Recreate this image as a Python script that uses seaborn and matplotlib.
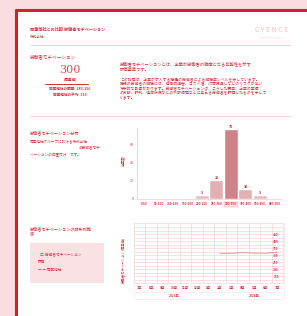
import numpy as np
import pandas as pd
import matplotlib
matplotlib.use("Agg")
import matplotlib.pyplot as plt
from matplotlib.patches import Rectangle
from matplotlib.lines import Line2D
import seaborn as sns

sns.set_style("white")
plt.rcParams['font.family'] = ['Noto Sans CJK JP', 'DejaVu Sans']
plt.rcParams['axes.unicode_minus'] = False

RED = "#d42f3c"
PINK_BG = "#f8dde1"
PALE = "#f5c9cd"

# 分布データ
bin_labels = ["0-50", "50-100", "100-150", "150-200", "200-250",
              "250-300", "300-350", "350-400", "400-450", "450-500"]
bin_counts = [0, 0, 0, 0, 3, 20, 75, 10, 3, 0]
highlight_bin = "300-350"

# 推移データ
month_labels = ["7月", "8月", "9月", "10月", "11月", "12月",
                "1月", "2月", "3月", "4月", "5月", "6月", "7月"]
month_scores = [np.nan] * 7 + [312, 313, 318, 314, 313, 322]
year_labels = ["2023年", "2024年"]
score_ticks = [150, 200, 250, 300, 350, 400, 450]

W, H = 307, 316
fig = plt.figure(figsize=(W / 100, H / 100), dpi=100, facecolor=PINK_BG)


def fx(x):
    return x / W


def fy(y):
    return 1 - y / H


def txt(x, y, s, size=3.1, color=RED, **kw):
    fig.text(fx(x), fy(y), s, fontsize=size, color=color, va="center", **kw)


def hline(x0, x1, y, color=PALE, lw=0.6):
    fig.add_artist(Line2D([fx(x0), fx(x1)], [fy(y), fy(y)], color=color, lw=lw,
                          transform=fig.transFigure))


# 白いパネルと赤い枠
fig.add_artist(Rectangle((fx(16), 0), 1 - fx(16), fy(10), transform=fig.transFigure,
                         facecolor="white", edgecolor="none", zorder=0))
fig.add_artist(Line2D([fx(16), 1], [fy(10), fy(10)], color="#d61f2c", lw=2.2,
                      transform=fig.transFigure))
fig.add_artist(Line2D([fx(16), fx(16)], [0, fy(10)], color="#d61f2c", lw=2.2,
                      transform=fig.transFigure))

# ヘッダー
txt(30, 29, "同業他社との比較 労働者モチベーション", 3.0, fontweight="bold")
txt(30, 37, "株式会社", 2.6)
txt(272, 30, "C Y E N C E", 5.0, color="#f4bfc3", ha="center")
txt(272, 38, "Cyber Risk Analytics", 2.0, color="#fae0e2", ha="center")
hline(30, 290, 45)

# セクション1
txt(30, 57, "労働者モチベーション", 3.3)
txt(70, 70, "300", 8, ha="center", family="DejaVu Serif", color="#dc4b55")
txt(70, 79, "(偏差値)", 2.6, ha="center", fontweight="bold")
hline(45, 88, 84, color=RED, lw=0.7)
txt(70, 89, "同業他社の範囲: 285-356", 2.6, ha="center", fontweight="bold")
txt(70, 95, "同業他社の平均: 316", 2.6, ha="center", fontweight="bold")

txt(120, 64, "労働者モチベーションとは、企業が労働者の離職となる可能性を示す", 3.1)
txt(120, 68.5, "評価基準です。", 3.1)
para = [
    "この指標は、企業が求人する職種の労働者による離職率レベルを示しています。",
    "職場の労働者の離職には、組織的損害、コスト増、対策見直しなどのリスクが伴い",
    "将来的な影響があります。労働者モチベーションは、こうした要素、企業の業績",
    "の変動、評判、経済状況などの外部環境などに与える労働者を評価したものを示して",
    "います。",
]
for i, line in enumerate(para):
    txt(120, 80 + i * 4.4, line, 2.75)
hline(30, 290, 116)

# セクション2
txt(30, 133, "労働者モチベーション分布", 3.0)
txt(30, 142, "同業他社グループにおける株式会社", 2.6)
txt(100, 148, "の労働者モチ", 2.6, ha="right")
txt(30, 154, "ベーションの位置付け　です。", 2.6)

ax1 = fig.add_axes([fx(137), fy(199), fx(282) - fx(137), fy(128) - fy(199)])
df_bins = pd.DataFrame({"bin": bin_labels, "count": bin_counts})
bar_colors = {b: ("#da777c" if b == highlight_bin else "#eeb3b6") for b in bin_labels}
bar_colors["250-300"] = "#eaa7aa"
bar_colors["350-400"] = "#eaa7aa"
sns.barplot(data=df_bins, x="bin", y="count", hue="bin", palette=bar_colors,
            legend=False, width=0.92, ax=ax1, edgecolor="white", linewidth=0.3)
for cont, v in zip(ax1.containers, bin_counts):
    if v:
        ax1.bar_label(cont, labels=[str(v)], fontsize=2.6, color="#b8202c",
                      fontweight="bold", padding=0.8)
ax1.set_ylim(0, 77.6)
ax1.set_xlim(-0.5, len(bin_labels) - 0.5)
ax1.set_yticks([0, 20, 40, 60])
ax1.tick_params(axis="y", labelsize=2.6, labelcolor=RED, length=1.2, width=0.3,
                color=PALE, pad=1)
ax1.tick_params(axis="x", labelsize=2.2, labelcolor=RED, length=0, pad=2.5)
for lab in ax1.get_xticklabels():
    lab.set_fontweight("bold")
    if lab.get_text() == highlight_bin:
        lab.set_bbox(dict(facecolor="#fbe3e5", edgecolor="#e59aa0", lw=0.3, pad=0.6))
ax1.set_xlabel("")
ax1.set_ylabel("")
for s in ["top", "right"]:
    ax1.spines[s].set_visible(False)
ax1.spines["left"].set_color(PALE)
ax1.spines["bottom"].set_color(PALE)
ax1.spines["left"].set_linewidth(0.5)
ax1.spines["bottom"].set_linewidth(0.5)
ax1.set_facecolor("white")
fig.text(fx(124), fy(161), "企業数", fontsize=2.6, color=RED, rotation=90,
         ha="center", va="center")

# セクション3
txt(30, 229, "労働者モチベーションの時系列推", 3.0)
txt(30, 234.5, "移", 3.0)
fig.add_artist(Rectangle((fx(30), fy(283)), fx(104) - fx(30), fy(243) - fy(283),
                         transform=fig.transFigure, facecolor="#f9e1e4",
                         edgecolor="none"))
txt(40, 255, "□  労働者モチベーション", 2.6)
txt(38, 262, "評価", 2.6)
txt(38, 270, "ー ー 同業他社", 2.6)

fig.add_artist(Rectangle((fx(134), fy(299)), fx(284) - fx(134), fy(223) - fy(299),
                         transform=fig.transFigure, facecolor="none",
                         edgecolor="#fbe3e5", lw=0.4))
hline(134, 284, 292, color="#fbe3e5", lw=0.4)

ax2 = fig.add_axes([fx(134), fy(283), fx(283) - fx(134), fy(223) - fy(283)])
df_line = pd.DataFrame({"pos": np.arange(len(month_labels)), "score": month_scores})
sns.lineplot(data=df_line, x="pos", y="score", ax=ax2, color="#e58a91", lw=0.6)
ax2.set_xlim(-0.5, len(month_labels) - 0.5)
ax2.set_ylim(100, 530)
ax2.set_xticks(df_line["pos"])
ax2.set_xticklabels(month_labels)
ax2.set_xticks(df_line["pos"][:-1] + 0.5, minor=True)
ax2.set_yticks(score_ticks)
ax2.set_yticks([125, 175, 225, 275, 325, 375, 425, 475, 500], minor=True)
ax2.yaxis.tick_right()
ax2.grid(True, which="minor", color=PALE, lw=0.4)
ax2.grid(False, which="major", axis="x")
ax2.grid(True, which="major", axis="y", color=PALE, lw=0.4)
ax2.tick_params(axis="y", which="both", labelsize=2.3, labelcolor=RED, length=0, pad=-5)
ax2.tick_params(axis="x", which="both", labelsize=2.4, labelcolor=RED, length=0, pad=2)
for lab in ax2.get_yticklabels():
    lab.set_fontweight("bold")
    lab.set_horizontalalignment("center")
for lab in ax2.get_xticklabels():
    lab.set_fontweight("bold")
ax2.set_xlabel("")
ax2.set_ylabel("")
for s in ax2.spines.values():
    s.set_color(PALE)
    s.set_linewidth(0.4)
for xpos, yl in zip([3, 10], year_labels):
    ax2.text(xpos, -0.22, yl, transform=ax2.get_xaxis_transform(), fontsize=2.3,
             color=RED, ha="center", va="center", fontweight="bold")
fig.text(fx(124), fy(260), "労働者モチベーション(偏差値)", fontsize=2.4, color=RED,
         rotation=90, ha="center", va="center")

fig.savefig("out.png", dpi=100, facecolor=PINK_BG)
